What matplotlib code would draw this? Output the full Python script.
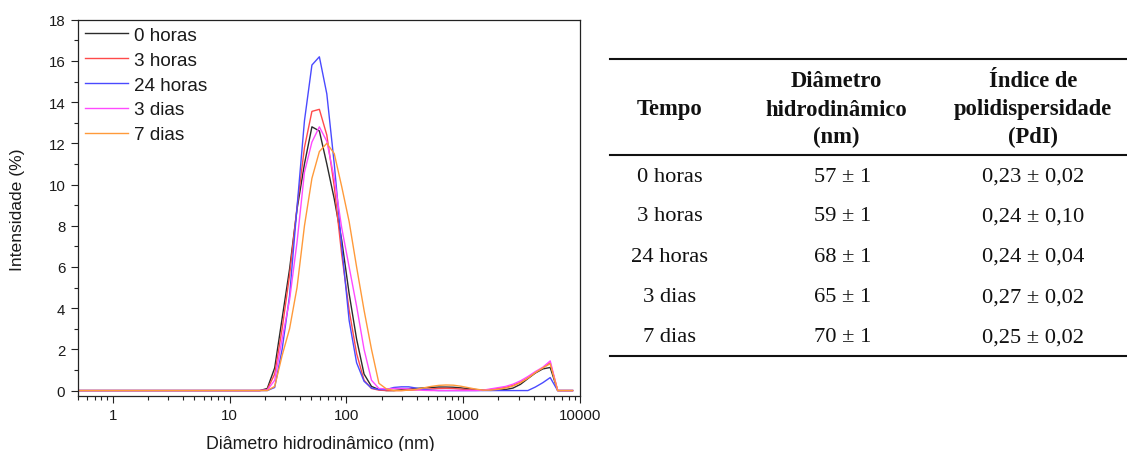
import matplotlib
matplotlib.use("Agg")
import matplotlib.pyplot as plt
from matplotlib.lines import Line2D
from matplotlib.ticker import LogLocator, MultipleLocator, NullFormatter

plt.rcParams['font.family'] = ['Liberation Sans', 'DejaVu Sans']

# classes de tamanho do Zetasizer (nm), de 0.4 ate 8635
diametro = [0.4, 0.4632, 0.5365, 0.6213, 0.7195, 0.8332, 0.9649, 1.117, 1.294,
            1.499, 1.736, 2.010, 2.328, 2.696, 3.122, 3.615, 4.187, 4.849, 5.615,
            6.503, 7.531, 8.721, 10.10, 11.70, 13.54, 15.69,
            18.17, 21.04, 24.36, 28.21, 32.67, 37.84, 43.82, 50.75, 58.77, 68.06,
            78.82, 91.28, 105.7, 122.4, 141.8, 164.2, 190.1, 220.2, 255.0, 295.3,
            342.0, 396.1, 458.7, 531.2, 615.1, 712.4, 825.0, 955.4, 1106, 1281,
            1484, 1718, 1990, 2305, 2669, 3091, 3580, 4145, 4801, 5560, 6439,
            7456, 8635]

# intensidade (%) por classe
int_0h = [0, 0, 0, 0, 0, 0, 0, 0, 0, 0, 0, 0, 0, 0, 0, 0, 0, 0, 0, 0, 0, 0, 0, 0, 0, 0,
          0, 0.1, 1.1, 3.5, 5.9, 8.8, 11.0, 12.8, 12.6, 11.0,
          9.3, 7.3, 4.7, 2.5, 0.8, 0.2, 0.05, 0, 0, 0.04,
          0.08, 0.10, 0.13, 0.15, 0.17, 0.17, 0.16, 0.13, 0.09, 0.05,
          0.02, 0.01, 0.02, 0.05, 0.12, 0.30, 0.58, 0.85, 1.05, 1.12, 0,
          0, 0]
int_3h = [0, 0, 0, 0, 0, 0, 0, 0, 0, 0, 0, 0, 0, 0, 0, 0, 0, 0, 0, 0, 0, 0, 0, 0, 0, 0,
          0, 0.05, 0.8, 3.0, 5.6, 8.9, 11.8, 13.55, 13.65, 12.4,
          9.9, 6.6, 3.9, 1.8, 0.5, 0.1, 0.02, 0, 0, 0,
          0.02, 0.03, 0.05, 0.08, 0.10, 0.11, 0.10, 0.07, 0.04, 0.02,
          0.01, 0.05, 0.10, 0.15, 0.25, 0.40, 0.62, 0.88, 1.10, 1.35, 0,
          0, 0]
int_24h = [0, 0, 0, 0, 0, 0, 0, 0, 0, 0, 0, 0, 0, 0, 0, 0, 0, 0, 0, 0, 0, 0, 0, 0, 0, 0,
           0, 0, 0.15, 2.0, 4.6, 8.9, 13.1, 15.8, 16.2, 14.4,
           11.0, 7.0, 3.4, 1.35, 0.45, 0.12, 0.05, 0.05, 0.15, 0.18,
           0.18, 0.12, 0.05, 0.02, 0, 0, 0, 0, 0, 0,
           0, 0, 0, 0, 0, 0, 0, 0.17, 0.38, 0.63, 0,
           0, 0]
int_3d = [0, 0, 0, 0, 0, 0, 0, 0, 0, 0, 0, 0, 0, 0, 0, 0, 0, 0, 0, 0, 0, 0, 0, 0, 0, 0,
          0, 0.02, 0.5, 2.5, 4.4, 7.2, 10.6, 12.06, 12.8, 12.1,
          10.3, 7.9, 6.0, 4.1, 2.0, 0.5, 0.1, 0.08, 0.10, 0.10,
          0.08, 0.04, 0.01, 0, 0, 0, 0, 0, 0, 0,
          0.02, 0.08, 0.14, 0.20, 0.31, 0.47, 0.68, 0.92, 1.13, 1.44, 0,
          0, 0]
int_7d = [0, 0, 0, 0, 0, 0, 0, 0, 0, 0, 0, 0, 0, 0, 0, 0, 0, 0, 0, 0, 0, 0, 0, 0, 0, 0,
          0, 0, 0.2, 1.7, 3.0, 5.0, 8.0, 10.3, 11.6, 12.0,
          11.5, 9.9, 8.2, 6.0, 3.9, 2.0, 0.35, 0.08, 0, 0,
          0.02, 0.06, 0.13, 0.20, 0.25, 0.27, 0.26, 0.21, 0.14, 0.07,
          0.02, 0.02, 0.06, 0.12, 0.22, 0.38, 0.60, 0.87, 1.10, 1.30, 0,
          0, 0]

series = [int_0h, int_3h, int_24h, int_3d, int_7d]
legendas = ["0 horas", "3 horas", "24 horas", "3 dias", "7 dias"]
cores = ["#2b2b2b", "#ff4a4a", "#4a4aff", "#ff4aff", "#ff9a3a"]

# tabela
cabecalho = [["Tempo"],
             ["Diâmetro", "hidrodinâmico", "(nm)"],
             ["Índice de", "polidispersidade", "(PdI)"]]
tempos = ["0 horas", "3 horas", "24 horas", "3 dias", "7 dias"]
diam_medio = ["57 ± 1", "59 ± 1", "68 ± 1", "65 ± 1", "70 ± 1"]
pdi = ["0,23 ± 0,02", "0,24 ± 0,10", "0,24 ± 0,04", "0,27 ± 0,02", "0,25 ± 0,02"]

W, H = 1127, 452
fig = plt.figure(figsize=(W / 100, H / 100), dpi=100)


def fx(px):
    return px / W


def fy(py):
    return 1 - py / H


ax = fig.add_axes([fx(77.5), fy(396.5), fx(580) - fx(77.5), fy(20.7) - fy(396.5)])

for y, lab, c in zip(series, legendas, cores):
    ax.plot(diametro, y, color=c, lw=1.0, label=lab)

ax.set_xscale("log")
ax.set_xlim(0.5, 10000)
ax.set_ylim(-0.24, 18)
ax.yaxis.set_major_locator(MultipleLocator(2))
ax.yaxis.set_minor_locator(MultipleLocator(1))
ax.xaxis.set_major_locator(LogLocator(base=10, numticks=20))
ax.xaxis.set_minor_locator(LogLocator(base=10, subs=range(2, 10), numticks=20))
ax.xaxis.set_minor_formatter(NullFormatter())
ax.set_xticks([1, 10, 100, 1000, 10000])
ax.set_xticklabels(["1", "10", "100", "1000", "10000"])

ax.tick_params(which="both", direction="out", top=False, right=False,
               width=0.8, color="#222222", labelsize=10.8, labelcolor="#1a1a1a")
ax.tick_params(which="major", length=4.8, pad=4.0)
ax.tick_params(which="minor", length=2.6)
for s in ax.spines.values():
    s.set_linewidth(0.9)
    s.set_color("#222222")

leg = ax.legend(loc="upper left", bbox_to_anchor=(0, 1), borderaxespad=0,
                borderpad=0.38, frameon=False, fontsize=13.6, handlelength=2.28,
                handletextpad=0.32, labelspacing=0.4)
for t in leg.get_texts():
    t.set_color("#1a1a1a")

fig.text(fx(18), fy(210), "Intensidade (%)", rotation=90, ha="center", va="center",
         fontsize=12.6, color="#1a1a1a")
fig.text(fx(320), fy(449), "Diâmetro hidrodinâmico (nm)", ha="center", va="baseline",
         fontsize=12.8, color="#1a1a1a")

# tabela com o resumo de DLS
serif = ["Liberation Serif", "DejaVu Serif"]
col_x = [670, 836, 1033]
for y_line in (60, 156, 357):
    fig.add_artist(Line2D([fx(610), fx(1127)], [fy(y_line), fy(y_line)],
                          transform=fig.transFigure, color="#111111", lw=1.5))

linhas_cab = [82, 110, 137.5]
for cx, cab in zip(col_x, cabecalho):
    if len(cab) == 1:
        pos = [linhas_cab[1]]
    else:
        pos = linhas_cab
    for yy, txt in zip(pos, cab):
        fig.text(fx(cx), fy(yy), txt, ha="center", va="center", family=serif,
                 fontweight="bold", fontsize=16.3, color="#111111")

linhas_y = [177, 217, 257.5, 298, 338]
for yy, t, d, p in zip(linhas_y, tempos, diam_medio, pdi):
    fig.text(fx(col_x[0]), fy(yy), t, ha="center", va="center", family=serif,
             fontsize=16.2, color="#111111")
    fig.text(fx(col_x[1] + 7), fy(yy), d, ha="center", va="center", family=serif,
             fontsize=16.2, color="#111111")
    fig.text(fx(col_x[2]), fy(yy), p, ha="center", va="center", family=serif,
             fontsize=16.2, color="#111111")

fig.savefig("out.png", dpi=100)
